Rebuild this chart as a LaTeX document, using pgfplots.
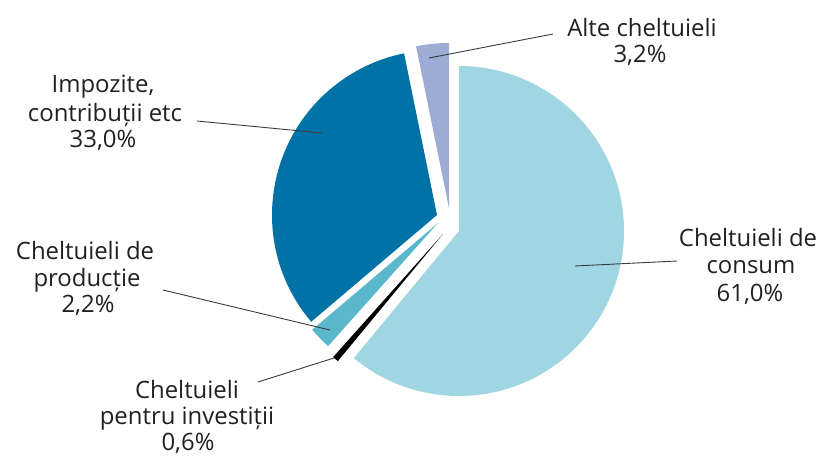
\documentclass[border=0pt]{standalone}
\usepackage{pgfplots}
\pgfplotsset{compat=1.18}
\usepackage{pgfplotstable}
\usepackage{fontspec}
\setmainfont{Open Sans}
\definecolor{slice0}{HTML}{A0D6E2}
\definecolor{slice1}{HTML}{000000}
\definecolor{slice2}{HTML}{5BB8CC}
\definecolor{slice3}{HTML}{0072A6}
\definecolor{slice4}{HTML}{9CACD4}
\definecolor{leader}{HTML}{3A3A3A}
\definecolor{txt}{HTML}{231F20}
\tikzset{lbl/.style={font=\fontsize{24}{28}\selectfont,text=txt,inner sep=0pt,anchor=base}}

% share (%), apex of exploded slice in pixel coordinates (x, y from top)
\pgfplotstableread{
share apx apy
61.0 459 231
0.6  443 234
2.2  438 223
33.0 437 215
3.2  449 208
}\piedata

\begin{document}
\begin{tikzpicture}
\path[use as bounding box] (0,0) rectangle (826bp,456bp);
\begin{axis}[x=1bp,y=1bp,xmin=0,xmax=826,ymin=0,ymax=456,
  hide axis,clip=false,scale only axis,at={(0,0)},anchor=origin]
\xdef\cumangle{90}
\foreach \i in {0,...,4}{
  \pgfplotstablegetelem{\i}{share}\of\piedata \let\share\pgfplotsretval
  \pgfplotstablegetelem{\i}{apx}\of\piedata \let\apx\pgfplotsretval
  \pgfplotstablegetelem{\i}{apy}\of\piedata \let\apy\pgfplotsretval
  \pgfmathsetmacro\endangle{\cumangle-3.6*\share}
  \pgfmathsetmacro\apyaxis{456-\apy}
  \edef\tmp{\noexpand\fill[slice\i] (axis cs:\apx,\apyaxis) -- ++(\cumangle:165bp)
     arc[start angle=\cumangle, end angle=\endangle, radius=165bp] -- cycle;}
  \tmp
  \xdef\cumangle{\endangle}
}
% leader lines
\draw[leader,line width=0.9pt] (axis cs:429,398) -- (axis cs:553,422);
\draw[leader,line width=0.9pt] (axis cs:197,335) -- (axis cs:322,323);
\draw[leader,line width=0.9pt] (axis cs:163,166) -- (axis cs:330,126);
\draw[leader,line width=0.9pt] (axis cs:258,74) -- (axis cs:334,98);
\draw[leader,line width=0.9pt] (axis cs:575,190) -- (axis cs:677,195);
% labels
\node[lbl] at (axis cs:642,419) {Alte cheltuieli};
\node[lbl] at (axis cs:640,393) {3,2\%};
\node[lbl] at (axis cs:748,209) {Cheltuieli de};
\node[lbl] at (axis cs:751,182) {consum};
\node[lbl] at (axis cs:750,154) {61,0\%};
\node[lbl] at (axis cs:103,363) {Impozite,};
\node[lbl] at (axis cs:105,334) {contribuții etc};
\node[lbl] at (axis cs:103,308) {33,0\%};
\node[lbl] at (axis cs:85,196) {Cheltuieli de};
\node[lbl] at (axis cs:87,169) {producție};
\node[lbl] at (axis cs:88,143) {2,2\%};
\node[lbl] at (axis cs:187,57) {Cheltuieli};
\node[lbl] at (axis cs:187,31) {pentru investiții};
\node[lbl] at (axis cs:188,5) {0,6\%};
\end{axis}
\end{tikzpicture}
\end{document}
